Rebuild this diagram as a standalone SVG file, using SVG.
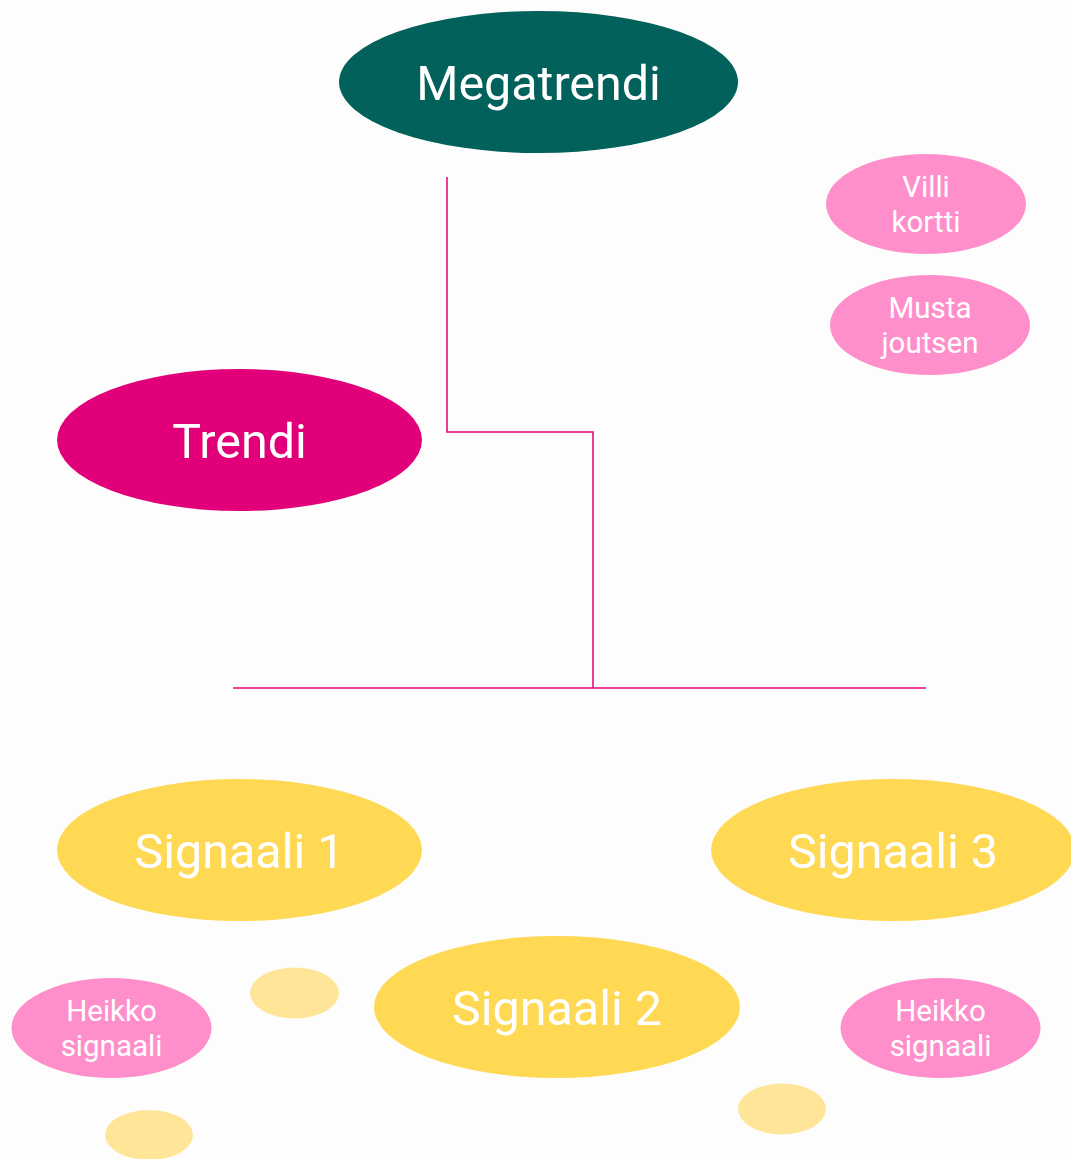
<svg xmlns="http://www.w3.org/2000/svg" width="1071" height="1159" viewBox="0 0 1071 1159">
<style>
text{font-family:Roboto,"Liberation Sans",sans-serif;fill:#ffffff;text-anchor:middle}
.big{font-size:48.4px}
.small{font-size:29.5px}
.pink{fill:#FF8FCB}
.yellow{fill:#FFD954}
.pale{fill:#FFE598}
.conn{fill:none;stroke:#E2007A;stroke-width:1.5}
</style>
<rect width="1071" height="1159" fill="#FDFDFD"/>
<g id="connectors">
<polyline class="conn" points="447,177 447,432 593,432 593,688"/>
<line class="conn" x1="233" y1="688" x2="926" y2="688"/>
</g>
<g id="megatrendi"><ellipse cx="538.5" cy="82" rx="199.5" ry="71" fill="#02615A"/><text class="big" x="538.5" y="100">Megatrendi</text></g>
<g id="villi-kortti"><ellipse class="pink" cx="926" cy="204" rx="100" ry="50"/><text class="small" x="926" y="197">Villi</text><text class="small" x="926" y="232">kortti</text></g>
<g id="musta-joutsen"><ellipse class="pink" cx="930" cy="325" rx="100" ry="50"/><text class="small" x="930" y="318">Musta</text><text class="small" x="930" y="353">joutsen</text></g>
<g id="trendi"><ellipse cx="239.5" cy="440" rx="182.5" ry="71" fill="#E2007A"/><text class="big" x="239.5" y="458">Trendi</text></g>
<g id="signaali1"><ellipse class="yellow" cx="239.5" cy="850" rx="182.5" ry="71"/><text class="big" x="239.5" y="868">Signaali 1</text></g>
<g id="signaali3"><ellipse class="yellow" cx="893" cy="850" rx="182" ry="71"/><text class="big" x="893" y="868">Signaali 3</text></g>
<g id="signaali2"><ellipse class="yellow" cx="557" cy="1007" rx="183" ry="71"/><text class="big" x="557" y="1025">Signaali 2</text></g>
<g id="heikko1"><ellipse class="pink" cx="111.5" cy="1028" rx="100" ry="50"/><text class="small" x="111.5" y="1021">Heikko</text><text class="small" x="111.5" y="1056">signaali</text></g>
<g id="heikko2"><ellipse class="pink" cx="940.5" cy="1028" rx="100" ry="50"/><text class="small" x="940.5" y="1021">Heikko</text><text class="small" x="940.5" y="1056">signaali</text></g>
<g id="dot1"><ellipse class="pale" cx="294.5" cy="993" rx="44.5" ry="25.5"/></g>
<g id="dot2"><ellipse class="pale" cx="149" cy="1135" rx="44" ry="25"/></g>
<g id="dot3"><ellipse class="pale" cx="782" cy="1109" rx="44" ry="25.5"/></g>
</svg>
